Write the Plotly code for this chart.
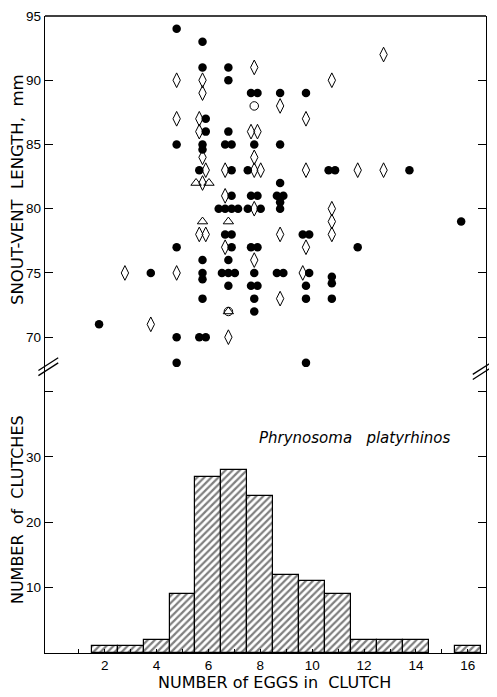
import plotly.graph_objects as go
from collections import defaultdict

# ---- Scatter data: number of eggs vs snout-vent length (mm) ----
# kind: F = filled circle, D = open diamond, T = open triangle, O = open circle
eggs = [2, 3, 4, 4,
        5, 5, 5, 5, 5, 5, 5, 5,
        6, 6, 6, 6, 6,  6, 6, 6, 6, 6,  6, 6, 6, 6, 6,  6, 6, 6, 6, 6,  6, 6, 6, 6, 6,
        7, 7, 7, 7, 7,  7, 7, 7, 7, 7,  7, 7, 7, 7, 7,  7, 7, 7, 7, 7,  7, 7, 7, 7, 7,  7,
        8, 8, 8, 8, 8,  8, 8, 8, 8, 8,  8, 8, 8, 8, 8,  8, 8, 8, 8, 8,  8, 8, 8, 8,
        9, 9, 9, 9, 9,  9, 9, 9, 9, 9,  9, 9,
        10, 10, 10, 10, 10,  10, 10, 10, 10, 10,  10,
        11, 11, 11, 11, 11,  11, 11, 11, 11,
        12, 12, 13, 13, 14, 16]
svl = [71, 75, 75, 71,
       94, 90, 87, 85, 77, 75, 70, 68,
       93, 91, 90, 89, 87,  87, 86, 86, 85, 84.6,  84, 83, 83, 82, 82,  82, 79, 78, 78, 76,  75, 74.5, 73, 70, 70,
       91, 90, 86, 85, 85,  83, 83, 81, 81, 80,  80, 80, 80, 79, 78,  78, 77, 77, 76, 75,  75, 75, 74, 72, 72,  70,
       91, 89, 89, 88, 86,  86, 85, 84, 83, 83,  83, 81, 81, 80, 80,  80, 77, 77, 76, 75,  74, 74, 73, 72,
       89, 88, 85, 82, 81,  81, 80.5, 80, 78, 75,  75, 73,
       89, 87, 83, 78, 78,  77, 75, 75, 74, 73,  68,
       90, 83, 83, 80, 79,  78, 74.7, 74.2, 73,
       83, 77, 92, 83, 83, 79]
kind = ["F", "D", "F", "D",
        "F", "D", "D", "F", "F", "D", "F", "F",
        "F", "F", "D", "D", "D",  "F", "D", "F", "F", "F",  "D", "F", "D", "T", "D",  "T", "T", "D", "D", "F",  "F", "F", "F", "F", "F",
        "F", "F", "F", "F", "F",  "D", "F", "D", "F", "F",  "F", "F", "F", "T", "F",  "F", "D", "F", "F", "F",  "F", "F", "F", "O", "T",  "D",
        "D", "F", "F", "O", "D",  "D", "F", "D", "F", "D",  "D", "F", "F", "F", "D",  "F", "F", "F", "D", "F",  "F", "F", "F", "F",
        "F", "D", "F", "F", "F",  "F", "F", "F", "D", "F",  "F", "D",
        "F", "D", "D", "F", "F",  "D", "D", "F", "F", "F",  "F",
        "D", "F", "F", "D", "D",  "D", "F", "F", "F",
        "D", "F", "D", "D", "F", "F"]

# ---- Histogram data ----
hist_eggs = [2, 3, 4, 5, 6, 7, 8, 9, 10, 11, 12, 13, 14, 16]
hist_counts = [1, 1, 2, 9, 27, 28, 24, 12, 11, 9, 2, 2, 2, 1]

x_tickvals = list(range(1, 17))
x_ticktext = [str(v) if v % 2 == 0 else "" for v in x_tickvals]
top_ticks = [70, 75, 80, 85, 90, 95]
bottom_ticks = [10, 20, 30, 40]
bottom_ticktext = ["10", "20", "30", ""]

# dodge overlapping points horizontally (open circles drawn at centre)
groups = defaultdict(list)
for i, (e, s, k) in enumerate(zip(eggs, svl, kind)):
    if k != "O":
        groups[(e, s)].append(i)
xpos = [float(e) for e in eggs]
step = 0.25
for key, idx in groups.items():
    n = len(idx)
    for j, i in enumerate(idx):
        xpos[i] = eggs[i] + (j - (n - 1) / 2) * step

styles = {
    "F": dict(symbol="circle", size=8.5, color="black", line=dict(width=0)),
    "D": dict(symbol="diamond-tall-open", size=10.5, color="black", line=dict(width=1)),
    "T": dict(symbol="triangle-up-open", size=9, color="black", line=dict(width=1)),
    "O": dict(symbol="circle-open", size=8.5, color="black", line=dict(width=1)),
}

fig = go.Figure()
n_pts = min(len(eggs), len(svl), len(kind))
for k in ["F", "D", "T", "O"]:
    xs = [xpos[i] for i in range(n_pts) if kind[i] == k]
    ys = [svl[i] for i in range(n_pts) if kind[i] == k]
    fig.add_trace(go.Scatter(x=xs, y=ys, mode="markers", marker=styles[k],
                             xaxis="x2", yaxis="y", showlegend=False,
                             hoverinfo="skip"))

fig.add_trace(go.Bar(
    x=hist_eggs, y=hist_counts, width=1, xaxis="x", yaxis="y2",
    marker=dict(color="white",
                line=dict(color="black", width=1.2),
                pattern=dict(shape="/", fgcolor="black", bgcolor="white",
                             size=5, solidity=0.45)),
    showlegend=False, hoverinfo="skip"))

split = 0.4474
font = "Liberation Sans, Arial, sans-serif"
title_font = "DejaVu Sans, Liberation Sans, sans-serif"
fig.update_layout(
    width=489, height=689,
    margin=dict(l=37, r=11, t=8, b=44, autoexpand=False),
    paper_bgcolor="white", plot_bgcolor="white",
    font=dict(family=font, size=13, color="black"),
    bargap=0,
    xaxis=dict(domain=[0, 1], range=[-0.3, 16.7], anchor="y2", automargin=False,
               showline=True, linecolor="black", linewidth=1.3,
               ticks="inside", ticklen=4, tickcolor="black",
               tickvals=x_tickvals, ticktext=x_ticktext,
               showgrid=False, zeroline=False,
               tickfont=dict(size=13.5)),
    xaxis2=dict(domain=[0, 1], range=[-0.09, 16.96], anchor="y", automargin=False,
                showline=False, ticks="", showticklabels=False,
                showgrid=False, zeroline=False),
    yaxis=dict(domain=[split, 1], range=[67.6, 95], anchor="x2", automargin=False,
               showline=True, linecolor="black", linewidth=1.3, mirror="ticks",
               ticks="inside", ticklen=8, tickcolor="black",
               tickvals=top_ticks, showgrid=False, zeroline=False,
               ticklabeloverflow="allow", tickfont=dict(size=13.5)),
    yaxis2=dict(domain=[0, split], range=[0, 43.6], anchor="x", automargin=False,
                showline=True, linecolor="black", linewidth=1.3, mirror="ticks",
                ticks="inside", ticklen=8, tickcolor="black",
                tickvals=bottom_ticks, ticktext=bottom_ticktext,
                showgrid=False, zeroline=False, tickfont=dict(size=13.5)),
    annotations=[
        dict(text="SNOUT-VENT  LENGTH,  mm", xref="paper", yref="paper",
             x=-0.061, y=0.727, xanchor="center", yanchor="middle",
             textangle=-90, showarrow=False,
             font=dict(size=16.5, family=title_font)),
        dict(text="NUMBER  of  CLUTCHES", xref="paper", yref="paper",
             x=-0.061, y=0.2245, xanchor="center", yanchor="middle",
             textangle=-90, showarrow=False,
             font=dict(size=16, family=title_font)),
        dict(text="NUMBER of EGGS in  CLUTCH", xref="paper", yref="paper",
             x=0.52, y=-0.047, xanchor="center", yanchor="middle",
             showarrow=False, font=dict(size=16, family=title_font)),
        dict(text="<i>Phrynosoma   platyrhinos</i>", xref="paper", yref="paper",
             x=0.703, y=0.3375, xanchor="center", yanchor="middle",
             showarrow=False, font=dict(size=15, family=title_font)),
    ],
)

# top frame line
fig.add_shape(type="line", xref="paper", yref="paper", x0=0, y0=1, x1=1, y1=1,
              line=dict(color="black", width=1.3))
# axis-break marks (//) on left and right spines
for dy in (0.0, 0.008):
    fig.add_shape(type="line", xref="paper", yref="paper",
                  x0=-0.015, y0=split - 0.012 + dy, x1=0.03, y1=split + 0.008 + dy,
                  line=dict(color="black", width=1.3))
    fig.add_shape(type="line", xref="paper", yref="paper",
                  x0=0.97, y0=split - 0.018 + dy, x1=1.015, y1=split + 0.002 + dy,
                  line=dict(color="black", width=1.3))

fig.write_html("out.html")
